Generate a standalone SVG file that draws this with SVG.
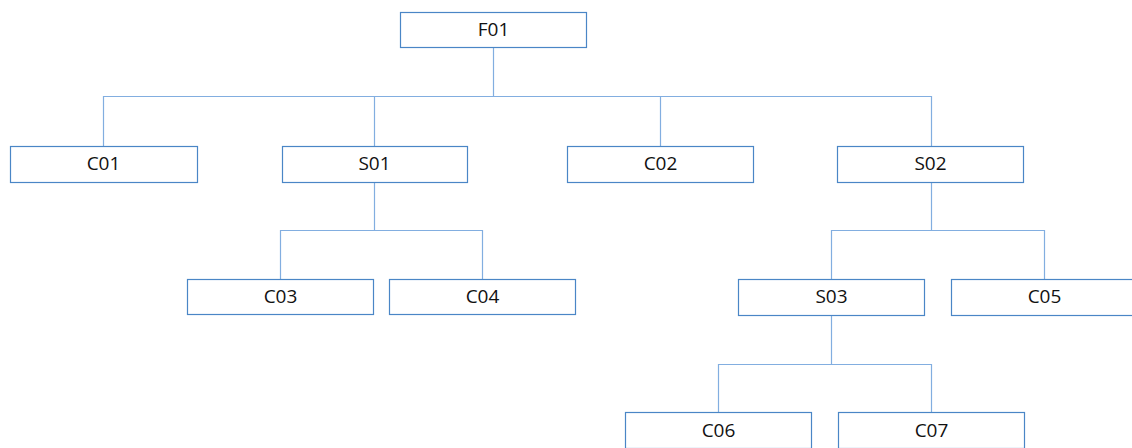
<svg xmlns="http://www.w3.org/2000/svg" width="1132" height="448" viewBox="0 0 1132 448">
  <style>
    .box { fill: #ffffff; stroke: #4a86c6; stroke-width: 1.2; }
    .lbl { font-family: "Open Sans", "Liberation Sans", sans-serif; font-size: 19px; fill: #111111; text-anchor: middle; dominant-baseline: central; }
    .wire { fill: none; stroke: #82aee0; stroke-width: 1.2; }
  </style>
  <rect width="1132" height="448" fill="#ffffff"/>

  <g id="connectors">
    <!-- F01 to level one -->
    <path class="wire" d="M493.5 47.5 V96.5 M103.5 146.5 V96.5 H931.5 V146.5 M374.5 96.5 V146.5 M660.5 96.5 V146.5"/>
    <!-- S01 to C03, C04 -->
    <path class="wire" d="M374.5 182.5 V230.5 M280.5 279.5 V230.5 H482.5 V279.5"/>
    <!-- S02 to S03, C05 -->
    <path class="wire" d="M931.5 182.5 V230.5 M831.5 279.5 V230.5 H1044.5 V279.5"/>
    <!-- S03 to C06, C07 -->
    <path class="wire" d="M831.5 315.5 V364.5 M718.5 412.5 V364.5 H931.5 V412.5"/>
  </g>

  <g id="F01"><rect class="box" x="400.5" y="12.5" width="186" height="35"/><text class="lbl" x="493.5" y="29">F01</text></g>
  <g id="C01"><rect class="box" x="10.5" y="146.5" width="187" height="36"/><text class="lbl" x="103.5" y="163">C01</text></g>
  <g id="S01"><rect class="box" x="282.5" y="146.5" width="185" height="36"/><text class="lbl" x="374.5" y="163">S01</text></g>
  <g id="C02"><rect class="box" x="567.5" y="146.5" width="186" height="36"/><text class="lbl" x="660.5" y="163">C02</text></g>
  <g id="S02"><rect class="box" x="837.5" y="146.5" width="186" height="36"/><text class="lbl" x="930.5" y="163">S02</text></g>
  <g id="C03"><rect class="box" x="187.5" y="279.5" width="186" height="35"/><text class="lbl" x="280.5" y="296">C03</text></g>
  <g id="C04"><rect class="box" x="389.5" y="279.5" width="186" height="35"/><text class="lbl" x="482.5" y="296">C04</text></g>
  <g id="S03"><rect class="box" x="738.5" y="279.5" width="186" height="36"/><text class="lbl" x="831.5" y="296">S03</text></g>
  <g id="C05"><rect class="box" x="951.5" y="279.5" width="186" height="36"/><text class="lbl" x="1044.5" y="296">C05</text></g>
  <g id="C06"><rect class="box" x="625.5" y="412.5" width="186" height="36"/><text class="lbl" x="718.5" y="430">C06</text></g>
  <g id="C07"><rect class="box" x="838.5" y="412.5" width="186" height="36"/><text class="lbl" x="931.5" y="430">C07</text></g>
</svg>
